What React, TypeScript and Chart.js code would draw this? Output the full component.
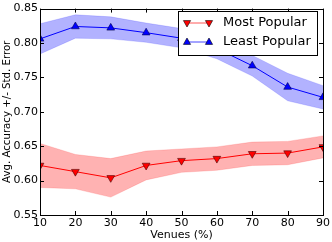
import React, { useEffect, useRef } from "react";
import { Chart, registerables } from "chart.js";

Chart.register(...registerables);

const venues = [10, 20, 30, 40, 50, 60, 70, 80, 90];
const mostPopular = [0.622, 0.613, 0.604, 0.622, 0.629, 0.632, 0.639, 0.640, 0.649];
const mostPopularErr = [0.032, 0.025, 0.028, 0.021, 0.017, 0.017, 0.017, 0.017, 0.016];
const leastPopular = [0.806, 0.824, 0.822, 0.815, 0.807, 0.792, 0.767, 0.736, 0.721];
const leastPopularErr = [0.022, 0.017, 0.016, 0.014, 0.014, 0.015, 0.015, 0.020, 0.017];
const xTicks = [10, 20, 30, 40, 50, 60, 70, 80, 90];
const yTicks = [0.55, 0.6, 0.65, 0.7, 0.75, 0.8, 0.85];
const seriesNames = ["Most Popular", "Least Popular"];

const FONT = "'DejaVu Sans', sans-serif";

function pts(vals: number[]) {
  return venues.map((v, i) => ({ x: v, y: vals[i] }));
}

function drawTri(ctx: CanvasRenderingContext2D, x: number, y: number, r: number, down: boolean, fill: string) {
  ctx.save();
  ctx.beginPath();
  const s = down ? -1 : 1;
  ctx.moveTo(x, y - s * r);
  ctx.lineTo(x - r * 0.9, y + s * r * 0.6);
  ctx.lineTo(x + r * 0.9, y + s * r * 0.6);
  ctx.closePath();
  ctx.fillStyle = fill;
  ctx.fill();
  ctx.lineWidth = 0.6;
  ctx.strokeStyle = "#000";
  ctx.stroke();
  ctx.restore();
}

const decorPlugin = {
  id: "decor",
  afterDraw(chart: any) {
    const { ctx, chartArea } = chart;
    const { left, right, top, bottom } = chartArea;
    const xs = chart.scales.x;
    const ys = chart.scales.y;
    ctx.save();
    ctx.strokeStyle = "#000";
    ctx.lineWidth = 1;
    ctx.strokeRect(Math.round(left) + 0.5, Math.round(top) + 0.5, Math.round(right - left), Math.round(bottom - top));
    const tl = 4;
    ctx.beginPath();
    xTicks.forEach((t) => {
      const px = Math.round(xs.getPixelForValue(t)) + 0.5;
      ctx.moveTo(px, bottom);
      ctx.lineTo(px, bottom - tl);
      ctx.moveTo(px, top);
      ctx.lineTo(px, top + tl);
    });
    yTicks.forEach((t) => {
      const py = Math.round(ys.getPixelForValue(t)) + 0.5;
      ctx.moveTo(left, py);
      ctx.lineTo(left + tl, py);
      ctx.moveTo(right, py);
      ctx.lineTo(right - tl, py);
    });
    ctx.stroke();

    // legend
    const bx = 178.5, by = 11.5, bw = 139, bh = 44;
    ctx.fillStyle = "#fff";
    ctx.fillRect(bx, by, bw, bh);
    ctx.strokeStyle = "#000";
    ctx.lineWidth = 1;
    ctx.strokeRect(bx, by, bw, bh);
    const rows = [
      { y: 23, color: "rgba(255,60,60,0.85)", fill: "#ff0000", down: true, label: seriesNames[0] },
      { y: 42, color: "rgba(40,40,255,0.85)", fill: "#0000ff", down: false, label: seriesNames[1] },
    ];
    rows.forEach((r) => {
      ctx.strokeStyle = r.color;
      ctx.lineWidth = 1;
      ctx.beginPath();
      ctx.moveTo(187, r.y);
      ctx.lineTo(209, r.y);
      ctx.stroke();
      drawTri(ctx, 187, r.y, 4, r.down, r.fill);
      drawTri(ctx, 209, r.y, 4, r.down, r.fill);
      ctx.fillStyle = "#000";
      ctx.font = `13px ${FONT}`;
      ctx.textAlign = "left";
      ctx.textBaseline = "middle";
      ctx.fillText(r.label, 223, r.y);
    });
    ctx.restore();
  },
};

export default function App() {
  const ref = useRef<HTMLCanvasElement>(null);
  useEffect(() => {
    if (!ref.current) return;
    const upperMP = mostPopular.map((v, i) => v + mostPopularErr[i]);
    const lowerMP = mostPopular.map((v, i) => v - mostPopularErr[i]);
    const upperLP = leastPopular.map((v, i) => v + leastPopularErr[i]);
    const lowerLP = leastPopular.map((v, i) => v - leastPopularErr[i]);
    const bandCommon = { pointRadius: 0, borderWidth: 0.5, tension: 0 };
    const chart = new Chart(ref.current, {
      type: "line",
      data: {
        datasets: [
          { label: "mpU", data: pts(upperMP), fill: "+1", backgroundColor: "rgba(255,0,0,0.3)", borderColor: "rgba(255,0,0,0.3)", ...bandCommon },
          { label: "mpL", data: pts(lowerMP), fill: false, borderColor: "rgba(255,0,0,0.3)", ...bandCommon },
          { label: "lpU", data: pts(upperLP), fill: "+1", backgroundColor: "rgba(0,0,255,0.3)", borderColor: "rgba(0,0,255,0.3)", ...bandCommon },
          { label: "lpL", data: pts(lowerLP), fill: false, borderColor: "rgba(0,0,255,0.3)", ...bandCommon },
          {
            label: seriesNames[0], data: pts(mostPopular), fill: false, borderColor: "#ff0000", borderWidth: 1,
            pointStyle: "triangle", rotation: 180, pointRadius: 4.5, pointBackgroundColor: "#ff0000",
            pointBorderColor: "#000", pointBorderWidth: 0.6, tension: 0,
          },
          {
            label: seriesNames[1], data: pts(leastPopular), fill: false, borderColor: "#0000ff", borderWidth: 1,
            pointStyle: "triangle", pointRadius: 4.5, pointBackgroundColor: "#0000ff",
            pointBorderColor: "#000", pointBorderWidth: 0.6, tension: 0,
          },
        ],
      },
      options: {
        responsive: false,
        animation: false,
        devicePixelRatio: 1,
        layout: { padding: { top: 5, right: 7, left: 0, bottom: 0 } },
        plugins: { legend: { display: false }, tooltip: { enabled: false } },
        scales: {
          x: {
            type: "linear", min: 10, max: 90,
            afterBuildTicks: (s: any) => { s.ticks = xTicks.map((v) => ({ value: v })); },
            afterFit: (s: any) => { s.height = 27; },
            grid: { display: false, drawTicks: false },
            border: { display: false },
            ticks: { color: "#000", font: { family: FONT, size: 11 }, padding: 2, maxRotation: 0 },
            title: { display: true, text: "Venues (%)", color: "#000", font: { family: FONT, size: 11 }, padding: { top: 0, bottom: 0 } },
          },
          y: {
            min: 0.55, max: 0.85,
            afterBuildTicks: (s: any) => { s.ticks = yTicks.map((v) => ({ value: v })); },
            afterFit: (s: any) => { s.width = 40; },
            grid: { display: false, drawTicks: false },
            border: { display: false },
            ticks: { color: "#000", font: { family: FONT, size: 11 }, padding: 2, callback: (v: any) => Number(v).toFixed(2) },
            title: { display: true, text: "Avg. Accuracy +/- Std. Error", color: "#000", font: { family: FONT, size: 10.2 }, padding: { top: 1, bottom: 0 } },
          },
        },
      },
      plugins: [decorPlugin],
    } as any);
    return () => chart.destroy();
  }, []);
  return (
    <div style={{ position: "fixed", left: 0, top: 0, width: 332, height: 242 }}>
      <canvas ref={ref} width={332} height={242} />
    </div>
  );
}
